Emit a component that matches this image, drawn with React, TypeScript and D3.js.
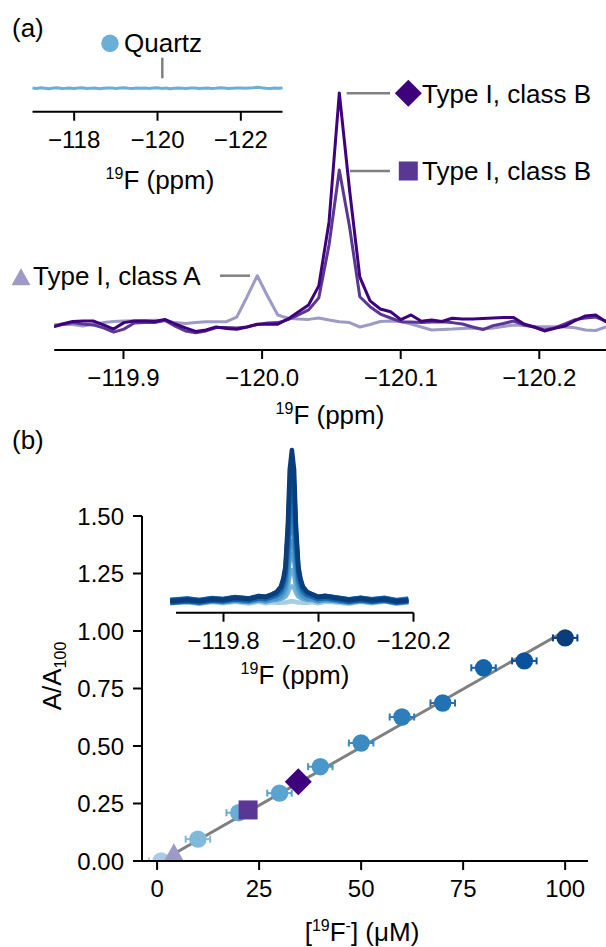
import * as d3 from "d3";

const width = 606;
const height = 947;
const font = "'Liberation Sans', Arial, Helvetica, sans-serif";

// (a) inset: quartz blank, one value every 0.1 ppm from -117 ppm (px-ish units)
const quartzStart = -117;
const quartzStep = -0.1;
const quartzSignal = [
  0.3, -0.2, 0.5, 0.1, -0.4, 0.2, 0.6, -0.1, 0.0, 0.4, -0.3, 0.2, 0.5, -0.2, 0.1, 0.3,
  -0.5, 0.0, 0.4, 0.2, -0.1, 0.3, 0.6, 0.1, -0.3, 0.2, 0.0, 0.4, -0.2, 0.3, 0.5, -0.1,
  0.2, -0.4, 0.1, 0.3, 0.0, -0.3, 0.2, 0.4, -0.1, 0.1, 0.3, -0.2, 0.0, 0.5, 0.2, -0.3,
  0.1, 0.4, 0.2, 0.0, 0.3, 0.6, 1.0, 0.5, 0.1, -0.2, 0.3, 0.0, 0.2,
];

// (a) main: Type I spectra, one value every 0.0074 ppm from -119.8485 ppm
const specStart = -119.8485;
const specStep = -0.0074;
const classBDiamond = [
  -1.3, 0, 1.1, 1.3, 1.3, -0.4, -2.2, 0.6, 1.3, 1.3,
  1.1, 2.0, 0, -1.7, -3.2, -2.6, -1.3, -1.9, -2.3, -1.3,
  -0.1, -0.1, -0.1, 2.2, 5.2, 8.2, 16.5, 44.2, 100, 58.0,
  20.3, 10.0, 6.5, 5.3, 1.9, 3.9, 1.2, 1.7, 1.1, 2.5,
  2.2, 2.2, 2.4, 2.6, 2.8, 2.8, 0, -1.3, -3.0, -1.9,
  -0.9, 1.5, 3.5, 3.9, 1.0, 0,
];
const classBSquare = [
  -1.3, -0.2, 0.6, 0, -0.4, -1.7, -3.5, -2.2, 0.4, 0.6,
  0.6, 1.5, -0.9, -3.0, -3.8, -3.0, -1.5, -1.5, -1.7, -1.3,
  -0.2, 0.4, 0.6, 1.9, 3.9, 6.1, 11.3, 34.2, 66.7, 42.1,
  11.8, 7.5, 4.3, 2.6, 1.0, 0.9, 0.7, 0.9, 1.0, 0.6,
  0, -1.3, -2.4, -0.7, 0.2, 1.3, -0.4, -1.3, -2.6, -1.7,
  0, 1.9, 2.6, 3.0, 1.3, 0.4,
];
const classA = [
  -0.4, -0.1, -0.2, -0.9, 0, 0.6, 1.1, 1.3, 1.4, 1.5,
  1.6, 1.5, 0.6, 0.2, 0.6, 1.0, 1.0, 1.0, 3.0, 11.7,
  20.9, 12.1, 3.9, 2.5, 2.2, 2.0, 2.6, 1.7, 1.0, 0.6,
  -1.3, -0.2, 1.1, 1.3, 1.1, 0, -1.3, -2.6, -2.4, -2.2,
  -1.9, -1.7, -2.2, -1.7, -1.1, -0.4, -0.6, -1.1, -1.2, -1.2,
  -1.3, -1.6, -2.6, -2.8, -1.3, -0.9,
];

const ppmTicksMain = [-119.9, -120.0, -120.1, -120.2];
const ppmTicksQuartz = [-118, -120, -122];
const ppmTicksInset = [-119.8, -120.0, -120.2];

// (b) calibration
const concentrations = [1, 10, 20, 30, 40, 50, 60, 70, 80, 90, 100];
const areaRatio = [0.0, 0.095, 0.21, 0.295, 0.41, 0.513, 0.626, 0.687, 0.84, 0.87, 0.97];
const concError = [3, 3, 3, 3, 3, 3, 3, 3, 3, 3, 3];
const pointColors = [
  "#a6cde3", "#80badb", "#6aaed6", "#5aa3d1", "#4a98c9", "#3b8bc2",
  "#2e7ebc", "#2171b5", "#1563aa", "#0b519c", "#0a3d7c",
];

const typeConc = [4.1, 22.3, 34.6];
const typeRatio = [0.04, 0.222, 0.345];
const typeShapes = ["triangle", "square", "diamond"];
const typeColors = ["#9e9ac8", "#5a3794", "#3f007d"];

const fitConc = [2, 98.5];
const fitRatio = [0.01, 0.985];

const concTicks = [0, 25, 50, 75, 100];
const ratioTicks = [0, 0.25, 0.5, 0.75, 1, 1.25, 1.5];

// (b) inset spectra, offsets in ppm from the peak
const insetPeak = -119.944;
const insetOffsets = [
  -0.245, -0.22, -0.195, -0.168, -0.145, -0.12, -0.09, -0.07, -0.055, -0.042, -0.032,
  -0.0232, -0.018, -0.0137, -0.0084, -0.0046, 0, 0.0046, 0.0084, 0.0137, 0.018, 0.0232,
  0.032, 0.042, 0.055, 0.07, 0.09, 0.12, 0.145, 0.168, 0.195, 0.22, 0.256,
];
const insetShape = [
  0.0, 0.002, 0.004, 0.007, 0.009, 0.012, 0.018, 0.024, 0.03, 0.04, 0.06,
  0.095, 0.15, 0.227, 0.515, 0.87, 1.0, 0.87, 0.515, 0.227, 0.15, 0.095,
  0.06, 0.04, 0.03, 0.024, 0.018, 0.013, 0.01, 0.007, 0.005, 0.003, 0.0,
];
const insetNoise = [
  0.004, -0.006, 0.008, -0.003, 0.006, -0.007, 0.003, 0.007, -0.004, 0.005, 0,
  0, 0, 0, 0, 0, 0, 0, 0, 0, 0, 0,
  0, 0.003, -0.004, 0.006, -0.005, 0.007, -0.003, 0.005, -0.007, 0.004, -0.003,
];
const insetAmps = [0.01, 0.09, 0.21, 0.3, 0.41, 0.51, 0.62, 0.69, 0.84, 0.88, 1.0];
const insetShift = [-0.012, 0.008, -0.006, 0.012, -0.01, 0.004, -0.004, 0.01, -0.008, 0.006, 0.0];

const tickFont = 24;
const labelFont = 26;
const supFont = 16;

function XAxis({ scale, y, ticks, fmt, x0, x1 }) {
  return (
    <g>
      <line x1={x0} x2={x1} y1={y} y2={y} stroke="#000" strokeWidth={2} />
      {ticks.map((t) => (
        <g key={t} transform={`translate(${scale(t)},${y})`}>
          <line y1={0} y2={9} stroke="#000" strokeWidth={2} />
          <text y={36} textAnchor="middle" fontSize={tickFont}>{fmt(t)}</text>
        </g>
      ))}
    </g>
  );
}

function PpmLabel({ x, y }) {
  return (
    <text x={x} y={y} textAnchor="middle" fontSize={labelFont}>
      <tspan fontSize={supFont} dy={-10}>19</tspan>
      <tspan dy={10}>F (ppm)</tspan>
    </text>
  );
}

function Marker({ shape, cx, cy, color }) {
  if (shape === "circle") return <circle cx={cx} cy={cy} r={8.7} fill={color} />;
  if (shape === "square") return <rect x={cx - 9.5} y={cy - 9.5} width={19} height={19} fill={color} />;
  if (shape === "diamond")
    return <polygon points={`${cx},${cy - 13.5} ${cx + 13.5},${cy} ${cx},${cy + 13.5} ${cx - 13.5},${cy}`} fill={color} />;
  return <polygon points={`${cx},${cy - 8.5} ${cx + 9.5},${cy + 8.5} ${cx - 9.5},${cy + 8.5}`} fill={color} />;
}

export default function App() {
  const xMain = d3.scaleLinear().domain([-119.85, -120.25]).range([54.2, 608.6]);
  const yMain = d3.scaleLinear().domain([0, 100]).range([324, 93]);
  const xQ = d3.scaleLinear().domain([-117, -123]).range([32.5, 282.5]);
  const yQ = d3.scaleLinear().domain([0, 10]).range([88.3, 78.3]);
  const xB = d3.scaleLinear().domain([-3.7, 105.6]).range([142, 588]);
  const yB = d3.scaleLinear().domain([0, 1.5]).range([861, 516]);
  const xI = d3.scaleLinear().domain([-119.7, -120.2]).range([176, 413.5]);
  const yI = d3.scaleLinear().domain([0, 1]).range([601, 450]);

  const specLine = d3.line<number>()
    .x((_, i) => xMain(specStart + i * specStep))
    .y((v) => yMain(v));
  const quartzLine = d3.line<number>()
    .x((_, i) => xQ(quartzStart + i * quartzStep))
    .y((v) => yQ(v));
  const insetLine = (k: number) =>
    d3.line<number>()
      .x((_, i) => xI(insetPeak + insetOffsets[i]))
      .y((v, i) => yI(v * insetAmps[k] + insetNoise[i] + insetShift[k]))(insetShape);

  const fmt1 = d3.format(".1f");
  const fmt0 = d3.format(".0f");
  const fmt2 = d3.format(".2f");

  return (
    <svg width={width} height={height} style={{ position: "absolute", left: 0, top: 0, background: "#fff" }}
      fontFamily={font}>
      <defs>
        <clipPath id="clipA"><rect x={54.2} y={0} width={560} height={350} /></clipPath>
        <clipPath id="clipB"><rect x={142} y={400} width={460} height={461} /></clipPath>
      </defs>

      {/* panel (a) */}
      <text x={12} y={37} fontSize={labelFont}>(a)</text>

      <path d={quartzLine(quartzSignal)} fill="none" stroke="#6baed6" strokeWidth={3} />
      <XAxis scale={xQ} y={111.7} ticks={ppmTicksQuartz} fmt={fmt0} x0={32.5} x1={282.5} />
      <PpmLabel x={160} y={189} />
      <line x1={162.3} x2={162.3} y1={57.7} y2={78.3} stroke="#808080" strokeWidth={2.5} />
      <Marker shape="circle" cx={110} cy={43.3} color="#6baed6" />
      <text x={124} y={52} fontSize={labelFont}>Quartz</text>

      <g clipPath="url(#clipA)">
        <path d={specLine(classA)} fill="none" stroke="#9e9ac8" strokeWidth={3} strokeLinejoin="round" />
        <path d={specLine(classBSquare)} fill="none" stroke="#5a3794" strokeWidth={3} strokeLinejoin="round" />
        <path d={specLine(classBDiamond)} fill="none" stroke="#3f007d" strokeWidth={3} strokeLinejoin="round" />
      </g>
      <XAxis scale={xMain} y={350} ticks={ppmTicksMain} fmt={fmt1} x0={54.2} x1={606} />
      <PpmLabel x={330} y={424} />

      <line x1={346.7} x2={390} y1={93.3} y2={93.3} stroke="#808080" strokeWidth={2.5} />
      <Marker shape="diamond" cx={408.3} cy={93.3} color="#3f007d" />
      <text x={422} y={103.3} fontSize={labelFont}>Type I, class B</text>
      <line x1={350} x2={390} y1={171} y2={171} stroke="#808080" strokeWidth={2.5} />
      <Marker shape="square" cx={408.3} cy={171} color="#5a3794" />
      <text x={422} y={179.5} fontSize={labelFont}>Type I, class B</text>
      <line x1={220} x2={250} y1={275.7} y2={275.7} stroke="#808080" strokeWidth={2.5} />
      <Marker shape="triangle" cx={21} cy={276.7} color="#9e9ac8" />
      <text x={33} y={285} fontSize={labelFont}>Type I, class A</text>

      {/* panel (b) */}
      <text x={12} y={449} fontSize={labelFont}>(b)</text>

      <line x1={xB(fitConc[0])} y1={yB(fitRatio[0])} x2={xB(fitConc[1])} y2={yB(fitRatio[1])}
        stroke="#808080" strokeWidth={3} />
      <g clipPath="url(#clipB)">
        {concentrations.map((c, i) => {
          const cy = yB(areaRatio[i]);
          const xl = xB(c - concError[i]);
          const xr = xB(c + concError[i]);
          return (
            <g key={c}>
              <line x1={xl} x2={xr} y1={cy} y2={cy} stroke={pointColors[i]} strokeWidth={2} />
              <line x1={xl} x2={xl} y1={cy - 3.5} y2={cy + 3.5} stroke={pointColors[i]} strokeWidth={2} />
              <line x1={xr} x2={xr} y1={cy - 3.5} y2={cy + 3.5} stroke={pointColors[i]} strokeWidth={2} />
              <Marker shape="circle" cx={xB(c)} cy={cy} color={pointColors[i]} />
            </g>
          );
        })}
        {typeConc.map((c, i) => (
          <Marker key={i} shape={typeShapes[i]} cx={xB(c)} cy={yB(typeRatio[i])} color={typeColors[i]} />
        ))}
      </g>

      <line x1={142} x2={588} y1={861} y2={861} stroke="#000" strokeWidth={2} />
      {concTicks.map((t) => (
        <g key={t} transform={`translate(${xB(t)},861)`}>
          <line y1={0} y2={9} stroke="#000" strokeWidth={2} />
          <text y={36} textAnchor="middle" fontSize={tickFont}>{t}</text>
        </g>
      ))}
      <line x1={142} x2={142} y1={yB(1.5)} y2={861} stroke="#000" strokeWidth={2} />
      {ratioTicks.map((t) => (
        <g key={t} transform={`translate(142,${yB(t)})`}>
          <line x1={0} x2={-9} stroke="#000" strokeWidth={2} />
          <text x={-18} dy="0.36em" textAnchor="end" fontSize={tickFont}>{fmt2(t)}</text>
        </g>
      ))}
      <text transform="translate(61,676) rotate(-90)" textAnchor="middle" fontSize={labelFont}>
        A/A<tspan fontSize={supFont} dy={5}>100</tspan>
      </text>
      <text x={362} y={941} textAnchor="middle" fontSize={labelFont}>
        [<tspan fontSize={supFont} dy={-10}>19</tspan>
        <tspan dy={10}>F</tspan>
        <tspan fontSize={supFont} dy={-10}>-</tspan>
        <tspan dy={10}>] (μM)</tspan>
      </text>

      {/* inset of (b) */}
      {insetAmps.map((_, k) => (
        <path key={k} d={insetLine(k)} fill="none" stroke={pointColors[k]} strokeWidth={4.5} strokeLinejoin="round" />
      ))}
      <XAxis scale={xI} y={612.7} ticks={ppmTicksInset} fmt={fmt1} x0={176} x1={413.5} />
      <PpmLabel x={295} y={684} />
    </svg>
  );
}
